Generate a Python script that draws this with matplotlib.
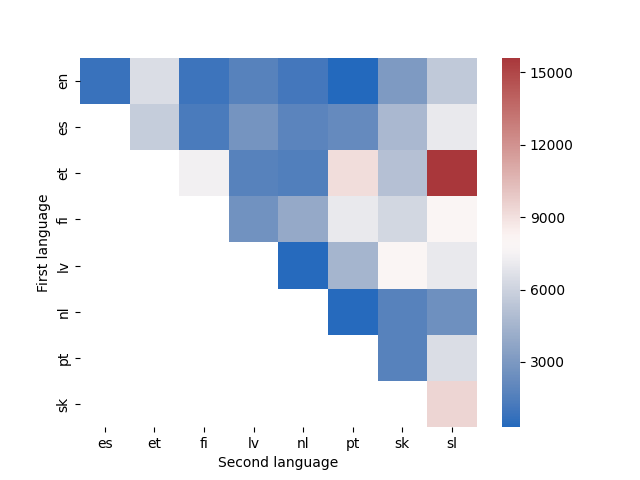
import numpy as np
import pandas as pd
import matplotlib
matplotlib.use('Agg')
import matplotlib.pyplot as plt
import seaborn as sns

first_lang = ['en', 'es', 'et', 'fi', 'lv', 'nl', 'pt', 'sk']
second_lang = ['es', 'et', 'fi', 'lv', 'nl', 'pt', 'sk', 'sl']

nan = np.nan
# pairwise counts, upper triangle only
row_en = [800, 6500, 900, 1700, 1100, 300, 3100, 5500]
row_es = [nan, 5700, 1300, 2700, 1800, 2200, 4700, 7000]
row_et = [nan, nan, 7400, 1700, 1500, 9100, 5100, 15600]
row_fi = [nan, nan, nan, 2600, 3900, 7000, 6200, 8000]
row_lv = [nan, nan, nan, nan, 400, 4500, 8000, 7000]
row_nl = [nan, nan, nan, nan, nan, 400, 1700, 2500]
row_pt = [nan, nan, nan, nan, nan, nan, 1700, 6500]
row_sk = [nan, nan, nan, nan, nan, nan, nan, 9400]

df = pd.DataFrame([row_en, row_es, row_et, row_fi, row_lv, row_nl, row_pt, row_sk],
                  index=first_lang, columns=second_lang)

fig, ax = plt.subplots(figsize=(6.4, 4.8), dpi=100)
sns.heatmap(df, cmap='vlag', ax=ax,
            cbar_kws={'ticks': [3000, 6000, 9000, 12000, 15000]})
ax.set_xlabel('Second language')
ax.set_ylabel('First language')

fig.savefig('out.png')
